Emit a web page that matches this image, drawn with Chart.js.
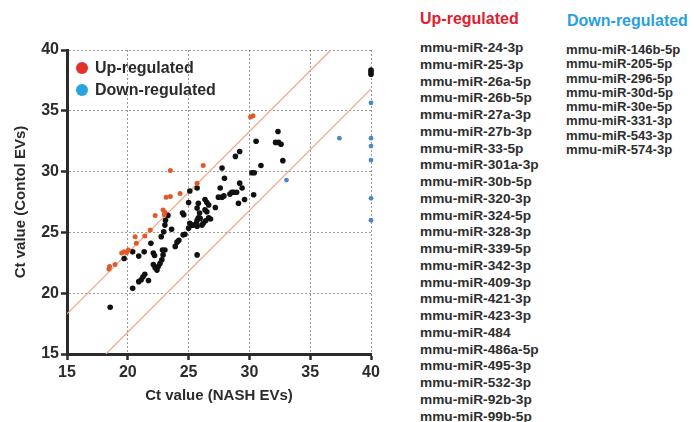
<!DOCTYPE html>
<html><head><meta charset="utf-8">
<script src="https://cdn.jsdelivr.net/npm/chart.js@4"></script>
<style>
html,body{margin:0;padding:0;background:#fff;width:694px;height:422px;overflow:hidden;font-family:"Liberation Sans",Arial,sans-serif;}
#wrap{position:absolute;left:0;top:0;width:400px;height:422px;}
.ttl{position:absolute;font-weight:bold;font-size:16px;line-height:20px;white-space:nowrap;}
.list{position:absolute;font-weight:bold;color:#2e2e2e;white-space:nowrap;}
</style></head><body>
<div id="wrap"><canvas id="c"></canvas></div>
<div class="ttl" style="left:420px;top:9px;color:#e0202e">Up-regulated</div>
<div class="ttl" style="left:567px;top:11px;color:#2a9fe0">Down-regulated</div>
<div class="list" id="upList" style="left:420px;top:40px;font-size:13.7px;line-height:16.75px"></div>
<div class="list" id="downList" style="left:566px;top:43px;font-size:13.1px;line-height:14.25px"></div>
<script>
// ---- data ----
const upGenes = ["mmu-miR-24-3p","mmu-miR-25-3p","mmu-miR-26a-5p","mmu-miR-26b-5p","mmu-miR-27a-3p","mmu-miR-27b-3p","mmu-miR-33-5p","mmu-miR-301a-3p","mmu-miR-30b-5p","mmu-miR-320-3p","mmu-miR-324-5p","mmu-miR-328-3p","mmu-miR-339-5p","mmu-miR-342-3p","mmu-miR-409-3p","mmu-miR-421-3p","mmu-miR-423-3p","mmu-miR-484","mmu-miR-486a-5p","mmu-miR-495-3p","mmu-miR-532-3p","mmu-miR-92b-3p","mmu-miR-99b-5p"];
const downGenes = ["mmu-miR-146b-5p","mmu-miR-205-5p","mmu-miR-296-5p","mmu-miR-30d-5p","mmu-miR-30e-5p","mmu-miR-331-3p","mmu-miR-543-3p","mmu-miR-574-3p"];

const upX = [18.45,18.5,18.95,19.5,19.7,19.9,20.05,20.6,20.7,21.4,21.85,22.25,22.9,23.05,23.0,23.15,23.5,24.3,23.5,25.7,26.2,30.1,30.3];
const upY = [22.0,22.2,22.35,23.3,23.4,23.35,23.55,24.65,24.1,24.7,25.2,26.4,26.85,26.65,26.45,27.9,27.95,28.2,30.1,29.05,30.5,34.5,34.6];

const downX = [33.05,37.4,40,40,40,40,40,40];
const downY = [29.3,32.75,35.65,32.75,32.1,30.95,27.8,26.0];

const otherX = [18.55,19.7,20.4,20.9,21.35,20.4,20.9,21.1,21.25,21.4,21.7,21.9,22.1,22.2,22.1,22.25,22.4,22.5,22.65,22.8,22.9,22.85,23.05,22.75,22.95,23.05,23.1,23.3,23.6,23.9,24.05,24.6,24.55,24.7,25.0,25.1,25.25,25.65,25.7,25.9,25.8,24.2,25.4,32.35,32.15,32.4,32.6,32.75,30.55,30.95,30.2,30.4,29.2,28.85,27.75,27.95,29.2,29.4,27.6,25.7,28.55,28.7,28.95,28.4,30.35,27.45,27.75,27.9,29.6,29.1,26.35,26.5,26.65,27.2,25.8,25.7,26.35,26.5,25.95,25.7,26.65,26.8,26.4,26.2,26.1,25.7,25.0,25.1,24.5,40,40,40];
const otherY = [18.85,22.85,23.4,23.05,23.4,20.4,20.95,21.1,21.35,21.55,21.05,24.1,23.3,23.1,22.35,22.1,21.9,22.2,22.45,22.75,23.15,23.55,23.55,24.65,25.05,25.6,26.0,26.4,25.25,23.85,24.2,26.45,24.8,24.85,27.45,25.75,25.6,25.75,23.15,26.6,26.2,24.35,25.6,33.3,32.4,32.4,32.25,30.9,32.5,30.5,29.9,29.9,31.65,31.25,30.3,29.45,29.05,28.65,28.65,28.65,28.3,28.3,28.3,28.15,28.1,27.9,27.9,28.0,27.7,27.4,27.7,27.45,27.25,27.05,27.4,27.0,26.85,26.7,26.15,26.0,26.2,26.1,25.95,25.75,25.6,25.5,25.35,28.4,26.6,38.0,38.2,38.35];

const upperLineX = [15,36.7];
const upperLineY = [18.3,40];
const lowerLineX = [18.2,40];
const lowerLineY = [15,36.8];

const xTicks = [15,20,25,30,35,40];
const yTicks = [15,20,25,30,35,40];

// ---- lists ----
document.getElementById('upList').innerHTML = upGenes.map(g=>'<div>'+g+'</div>').join('');
document.getElementById('downList').innerHTML = downGenes.map(g=>'<div>'+g+'</div>').join('');

const pts = (xs,ys)=>xs.map((x,i)=>({x:x,y:ys[i]}));
const FONT = "'Liberation Sans', Arial, sans-serif";
Chart.defaults.font.family = FONT;

const inLegend = {
  id:'inLegend',
  afterDatasetsDraw(chart){
    const ctx = chart.ctx, a = chart.chartArea;
    const items = chart.data.datasets.filter(d=>d.legendColor);
    ctx.save();
    items.forEach((d,i)=>{
      const y = a.top + 18 + i*22;
      ctx.beginPath();
      ctx.arc(a.left+15, y, 6, 0, Math.PI*2);
      ctx.fillStyle = d.legendColor;
      ctx.fill();
      ctx.font = 'bold 16px ' + FONT;
      ctx.fillStyle = '#2b2b2b';
      ctx.textBaseline = 'middle';
      ctx.textAlign = 'left';
      ctx.fillText(d.label, a.left+28, y+1);
    });
    ctx.restore();
  }
};

const scaleCommon = (ticksArr)=>({
  type:'linear', min:15, max:40,
  afterBuildTicks(s){ s.ticks = ticksArr.map(v=>({value:v})); },
  grid:{ display:true, drawOnChartArea:true, color:'rgba(120,120,120,0.75)', lineWidth:1, drawTicks:true, tickLength:6, tickColor:'#2b2b2b', tickWidth:2.5, tickBorderDash:[] },
  border:{ display:true, color:'#2b2b2b', width:3, dash:[2,2] },
  ticks:{ color:'#2b2b2b', font:{ size:16, weight:'bold' }, padding:2 }
});

const xScale = scaleCommon(xTicks);
xScale.title = { display:true, text:'Ct value (NASH EVs)', color:'#2b2b2b', font:{size:15, weight:'bold'}, padding:{top:0, bottom:17} };
xScale.afterFit = s=>{ s.height = 68; };
xScale.ticks.padding = 3;
const yScale = scaleCommon(yTicks);
yScale.title = { display:true, text:'Ct value (Contol EVs)', color:'#2b2b2b', font:{size:15, weight:'bold'}, padding:{top:12, bottom:0} };
yScale.afterFit = s=>{ s.width = 67; };

new Chart(document.getElementById('c'), {
  type:'scatter',
  data:{ datasets:[
    { label:'upper', data:pts(upperLineX,upperLineY), showLine:true, borderColor:'#f2a488', borderWidth:1.2, pointRadius:0, order:10 },
    { label:'lower', data:pts(lowerLineX,lowerLineY), showLine:true, borderColor:'#f2a488', borderWidth:1.2, pointRadius:0, order:10 },
    { label:'Other', data:pts(otherX,otherY), backgroundColor:'#111', borderWidth:0, pointRadius:2.8, clip:false, order:3 },
    { label:'Up-regulated', data:pts(upX,upY), backgroundColor:'#e25a2a', borderWidth:0, pointRadius:2.5, clip:false, order:2, legendColor:'#e3302b' },
    { label:'Down-regulated', data:pts(downX,downY), backgroundColor:'#4a88c8', borderWidth:0, pointRadius:2.4, clip:false, order:1, legendColor:'#2aa3e2' }
  ]},
  options:{
    responsive:true, maintainAspectRatio:false, animation:false, devicePixelRatio:1,
    layout:{ padding:{ top:50, right:29, left:0, bottom:0 } },
    plugins:{ legend:{display:false}, tooltip:{enabled:false} },
    scales:{ x:xScale, y:yScale }
  },
  plugins:[inLegend]
});
</script>
</body></html>
